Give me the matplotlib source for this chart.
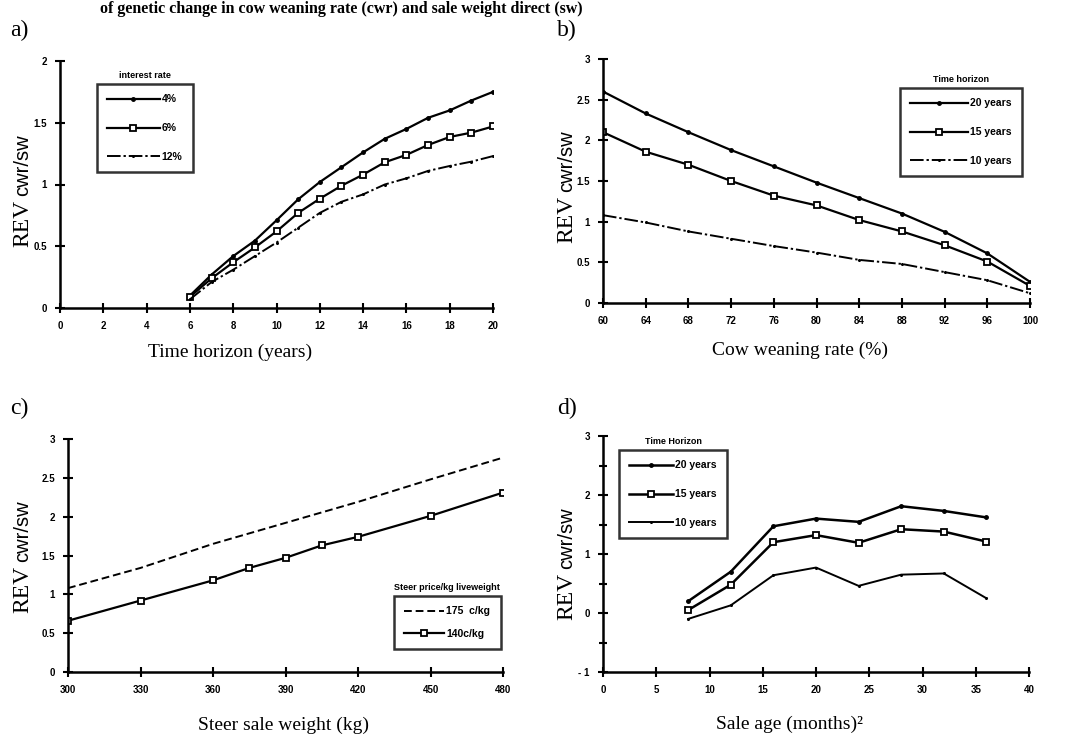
import matplotlib.pyplot as plt

plt.rcParams["font.family"] = "Liberation Sans"
plt.rcParams["axes.linewidth"] = 1.8

W, H = 1066, 739

# %% Data

# a) REV vs time horizon, by interest rate
a_years = [6, 7, 8, 9, 10, 11, 12, 13, 14, 15, 16, 17, 18, 19, 20]
a_4pct = [0.10, 0.27, 0.42, 0.545, 0.71, 0.88, 1.02, 1.14, 1.26, 1.37, 1.45, 1.54, 1.60, 1.68, 1.75]
a_6pct = [0.09, 0.24, 0.37, 0.49, 0.62, 0.77, 0.885, 0.99, 1.08, 1.18, 1.24, 1.32, 1.385, 1.42, 1.47]
a_12pct = [0.07, 0.21, 0.31, 0.42, 0.53, 0.65, 0.77, 0.86, 0.92, 1.00, 1.05, 1.11, 1.15, 1.185, 1.23]

# b) REV vs cow weaning rate, by time horizon
b_cwr = [60, 64, 68, 72, 76, 80, 84, 88, 92, 96, 100]
b_20y = [2.60, 2.33, 2.10, 1.88, 1.68, 1.48, 1.29, 1.10, 0.875, 0.61, 0.26]
b_15y = [2.10, 1.86, 1.70, 1.50, 1.32, 1.20, 1.02, 0.88, 0.71, 0.51, 0.21]
b_10y = [1.08, 0.99, 0.88, 0.79, 0.70, 0.62, 0.53, 0.48, 0.38, 0.28, 0.12]

# c) REV vs steer sale weight, by steer price
c_weight = [300, 330, 360, 375, 390, 405, 420, 450, 480]
c_140 = [0.66, 0.92, 1.18, 1.34, 1.47, 1.63, 1.74, 2.01, 2.31]
c_weight_175 = [300, 330, 360, 390, 420, 450, 480]
c_175 = [1.08, 1.34, 1.65, 1.92, 2.19, 2.48, 2.76]

# d) REV vs sale age, by time horizon
d_age = [8, 12, 16, 20, 24, 28, 32, 36]
d_20y = [0.20, 0.70, 1.47, 1.60, 1.545, 1.81, 1.73, 1.62]
d_15y = [0.05, 0.48, 1.20, 1.32, 1.19, 1.42, 1.38, 1.21]
d_10y = [-0.10, 0.13, 0.64, 0.77, 0.46, 0.65, 0.67, 0.25]

DASHDOT = (0, (7, 1.5, 1.2, 1.5))

# %% Figure


def px_axes(left, top, right, bottom):
    return fig.add_axes([left / W, 1 - bottom / H, (right - left) / W, (bottom - top) / H])


def style(ax, xlim, ylim, xticks, yticks, yminor=None):
    ax.set_xlim(*xlim)
    ax.set_ylim(*ylim)
    ax.spines["top"].set_visible(False)
    ax.spines["right"].set_visible(False)
    ax.set_xticks(xticks)
    ax.set_yticks(yticks)
    if yminor is not None:
        ax.set_yticks(yminor, minor=True)
        ax.tick_params(axis="y", which="minor", direction="inout", length=6, width=1.5)
    ax.tick_params(direction="inout", length=7, width=1.5, labelsize=7, pad=6)
    for lab in ax.get_xticklabels() + ax.get_yticklabels():
        lab.set_fontweight("bold")
    ax.margins(0)


def legend(ax, handles, labels, title, x0, y0, spacing=1.8, hl=5.0):
    leg = ax.legend(
        handles, labels, loc="upper left",
        bbox_to_anchor=(x0 / W, 1 - y0 / H), bbox_transform=fig.transFigure,
        borderaxespad=0, frameon=True, fancybox=False, handlelength=hl,
        labelspacing=spacing, borderpad=1.0, handletextpad=0.2,
        prop={"size": 7.5, "weight": "bold"},
    )
    leg.get_frame().set_edgecolor("black")
    leg.get_frame().set_linewidth(1.8)
    fig.canvas.draw()
    bb = leg.get_window_extent()
    fig.text((bb.x0 + bb.x1) / 2 / fig.dpi / fig.get_figwidth(), 1 - (y0 - 9) / H, title,
             ha="center", va="center", fontsize=6.5, fontweight="bold")


def rev_label(x, y_bottom):
    # "REV" in serif, then "cwr/sw" in sans, both reading upward
    t1 = fig.text(x / W, 1 - y_bottom / H, "REV", rotation=90, rotation_mode="anchor",
                  ha="left", va="baseline", family="Liberation Serif", fontsize=17)
    fig.canvas.draw()
    ext = t1.get_window_extent()
    fig.text(x / W, 1 - (y_bottom - ext.height - 4) / H, "cwr/sw", rotation=90,
             rotation_mode="anchor", ha="left", va="baseline", fontsize=14.5)


fig = plt.figure(figsize=(W / 100, H / 100), dpi=100)

fig.text(100 / W, 1 - 1 / H, "of genetic change in cow weaning rate (cwr) and sale weight direct (sw)",
         ha="left", va="top", family="Liberation Serif", fontsize=11.5, fontweight="bold")

# a)
ax = px_axes(60, 61, 493, 308)
l1, = ax.plot(a_years, a_4pct, "-", color="black", lw=1.6, marker="o", ms=2.5)
l2, = ax.plot(a_years, a_6pct, "-", color="black", lw=1.6, marker="s", ms=5, mfc="white", mew=1.3)
l3, = ax.plot(a_years, a_12pct, color="black", lw=1.4, ls=DASHDOT, marker="o", ms=1.2)
style(ax, (0, 20), (0, 2), range(0, 21, 2), [0, 0.5, 1, 1.5, 2])
ax.set_yticklabels(["0", "0.5", "1", "1.5", "2"])
legend(ax, [l1, l2, l3], ["4%", "6%", "12%"], "interest rate", 97, 84)
fig.text(10 / W, 1 - 30 / H, "a)", family="Liberation Serif", fontsize=17, va="center")
fig.text(230 / W, 1 - 352 / H, "Time horizon (years)", family="Liberation Serif", fontsize=14,
         ha="center", va="center")

# b)
ax = px_axes(603, 59, 1030, 303)
l1, = ax.plot(b_cwr, b_20y, "-", color="black", lw=1.6, marker="o", ms=2.5)
l2, = ax.plot(b_cwr, b_15y, "-", color="black", lw=1.6, marker="s", ms=5, mfc="white", mew=1.3)
l3, = ax.plot(b_cwr, b_10y, color="black", lw=1.4, ls=DASHDOT, marker="o", ms=1.2)
style(ax, (60, 100), (0, 3), range(60, 101, 4), [0, 0.5, 1, 1.5, 2, 2.5, 3])
ax.set_yticklabels(["0", "0.5", "1", "1.5", "2", "2.5", "3"])
legend(ax, [l1, l2, l3], ["20 years", "15 years", "10 years"], "Time horizon", 900, 88, hl=5.5)
fig.text(557 / W, 1 - 30 / H, "b)", family="Liberation Serif", fontsize=17, va="center")
fig.text(800 / W, 1 - 350 / H, "Cow weaning rate (%)", family="Liberation Serif", fontsize=14,
         ha="center", va="center")

# c)
ax = px_axes(68, 439, 503, 672)
l1, = ax.plot(c_weight_175, c_175, "--", color="black", lw=1.4, dashes=(4, 2))
l2, = ax.plot(c_weight, c_140, "-", color="black", lw=1.6, marker="s", ms=5, mfc="white", mew=1.3)
style(ax, (300, 480), (0, 3), range(300, 481, 30), [0, 0.5, 1, 1.5, 2, 2.5, 3])
ax.set_yticklabels(["0", "0.5", "1", "1.5", "2", "2.5", "3"])
legend(ax, [l1, l2], ["175  c/kg", "140c/kg"], "Steer price/kg liveweight", 394, 596,
       spacing=1.2, hl=3.8)
fig.text(10 / W, 1 - 408 / H, "c)", family="Liberation Serif", fontsize=17, va="center")
fig.text(283 / W, 1 - 725 / H, "Steer sale weight (kg)", family="Liberation Serif", fontsize=14,
         ha="center", va="center")

# d)
ax = px_axes(603, 436, 1029, 672)
l1, = ax.plot(d_age, d_20y, "-", color="black", lw=1.8, marker="o", ms=2.5)
l2, = ax.plot(d_age, d_15y, "-", color="black", lw=1.8, marker="s", ms=5, mfc="white", mew=1.3)
l3, = ax.plot(d_age, d_10y, "-", color="black", lw=1.4, marker="o", ms=1.2)
style(ax, (0, 40), (-1, 3), range(0, 41, 5), [-1, 0, 1, 2, 3], yminor=[-0.5, 0.5, 1.5, 2.5])
ax.set_yticklabels(["- 1", "0", "1", "2", "3"])
legend(ax, [l1, l2, l3], ["20 years", "15 years", "10 years"], "Time Horizon", 619, 450, hl=4.2)
fig.text(557 / W, 1 - 408 / H, "d)", family="Liberation Serif", fontsize=17, va="center")
fig.text(790 / W, 1 - 724 / H, "Sale age (months)²", family="Liberation Serif", fontsize=14,
         ha="center", va="center")

rev_label(28, 247)
rev_label(572, 243)
rev_label(28, 613)
rev_label(572, 620)

fig.savefig("out.png", dpi=100)
